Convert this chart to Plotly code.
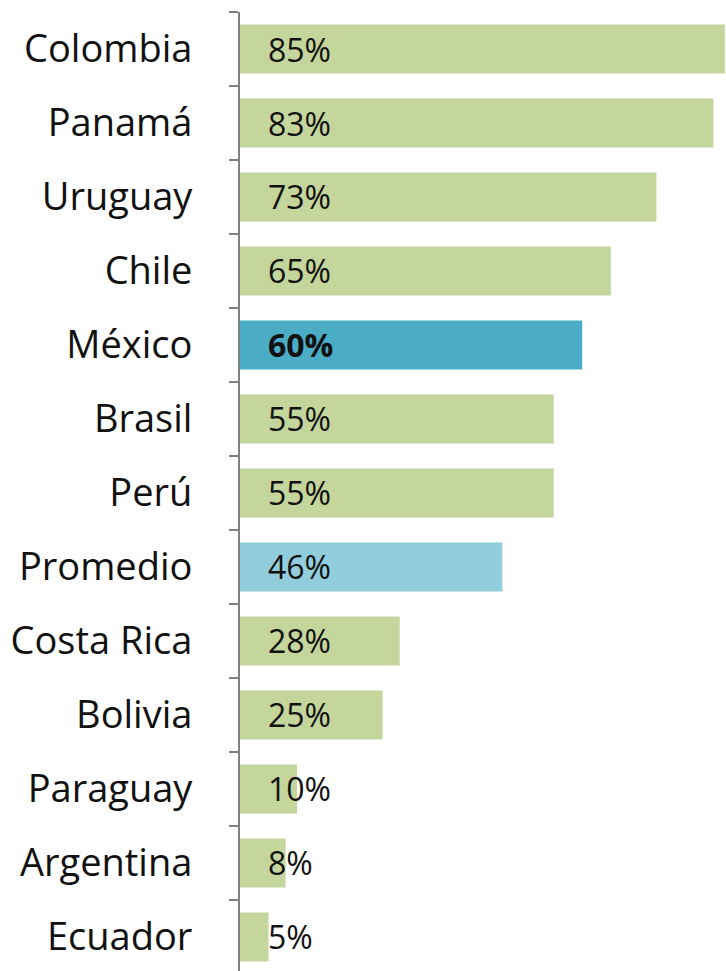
import plotly.graph_objects as go

countries = ["Colombia", "Panamá", "Uruguay", "Chile", "México", "Brasil", "Perú",
             "Promedio", "Costa Rica", "Bolivia", "Paraguay", "Argentina", "Ecuador"]
values = [85, 83, 73, 65, 60, 55, 55, 46, 28, 25, 10, 8, 5]
labels = ["85%", "83%", "73%", "65%", "<b>60%</b>", "55%", "55%", "46%", "28%", "25%", "10%", "8%", "5%"]

GREEN = "#C4D69B"
colors = []
for c in countries:
    if c == "México":
        colors.append("#4BACC6")
    elif c == "Promedio":
        colors.append("#92CDDD")
    else:
        colors.append(GREEN)

fig = go.Figure(go.Bar(
    y=countries, x=values, orientation="h",
    marker=dict(color=colors, line=dict(width=0)),
    hoverinfo="skip",
))

annotations = []
for c, t in zip(countries, labels):
    annotations.append(dict(
        x=0, y=c, xref="x", yref="y", text=t, showarrow=False,
        xanchor="left", yanchor="middle", xshift=26,
        font=dict(family="Open Sans", size=32, color="#111111"),
    ))

fig.update_layout(
    width=726, height=971,
    margin=dict(l=240, r=0, t=12, b=0),
    paper_bgcolor="white", plot_bgcolor="white",
    bargap=0.34, showlegend=False,
    annotations=annotations,
    xaxis=dict(visible=False, range=[0, 85.2], fixedrange=True),
    yaxis=dict(
        type="category", categoryorder="array", categoryarray=countries,
        range=[12.46, -0.5],
        showline=True, linecolor="#808080", linewidth=2,
        ticks="outside", tickson="boundaries", ticklen=9, tickcolor="#808080", tickwidth=2,
        showgrid=False, zeroline=False,
        tickfont=dict(family="Open Sans", size=38, color="#111111"),
        ticklabelstandoff=38,
    ),
)

fig.write_html("out.html")
